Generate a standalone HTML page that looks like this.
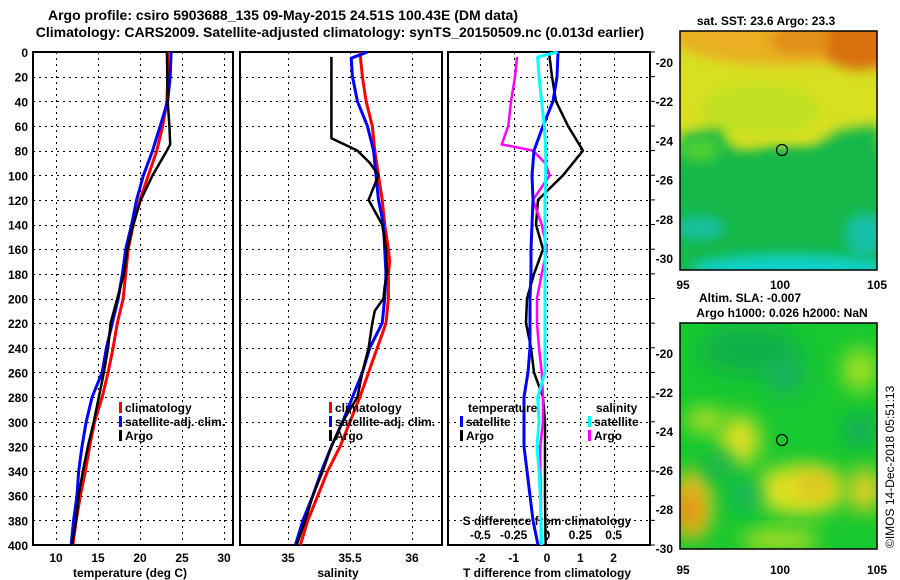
<!DOCTYPE html>
<html><head><meta charset="utf-8"><style>
html,body{margin:0;padding:0;background:#fff;}
svg{display:block;font-family:"Liberation Sans",Arial,sans-serif;font-weight:bold;}
</style></head><body>
<svg id="chart" width="900" height="580" viewBox="0 0 900 580" xmlns="http://www.w3.org/2000/svg">
<defs>
<filter id="b6" x="-50%" y="-50%" width="200%" height="200%"><feGaussianBlur stdDeviation="6"/></filter>
<filter id="b10" x="-50%" y="-50%" width="200%" height="200%"><feGaussianBlur stdDeviation="10"/></filter>
<clipPath id="m1c"><rect x="680" y="31" width="197" height="239"/></clipPath>
<clipPath id="m2c"><rect x="680" y="323" width="197" height="226"/></clipPath>
</defs>
<text x="283" y="20" font-size="14" text-anchor="middle">Argo profile: csiro 5903688_135 09-May-2015 24.51S 100.43E (DM data)</text>
<text x="340" y="37" font-size="14" text-anchor="middle">Climatology: CARS2009. Satellite-adjusted climatology: synTS_20150509.nc (0.013d earlier)</text>

<g clip-path="url(#m1c)">
<rect x="680" y="31" width="197" height="239" fill="#18b848"/>
<rect x="670" y="20" width="220" height="130" fill="#d8e020" filter="url(#b6)"/>
<ellipse cx="780" cy="35" rx="110" ry="30" fill="#e8b020" filter="url(#b6)"/>
<ellipse cx="860" cy="40" rx="40" ry="30" fill="#d87010" filter="url(#b6)"/>
<ellipse cx="800" cy="40" rx="30" ry="15" fill="#e09018" filter="url(#b6)"/>
<ellipse cx="760" cy="110" rx="60" ry="25" fill="#c0e020" filter="url(#b6)"/>
<path d="M680 135 L720 128 L740 170 L770 150 L810 150 L840 130 L880 125 L880 280 L680 280 Z" fill="#18b848" filter="url(#b6)"/>
<ellipse cx="700" cy="150" rx="20" ry="12" fill="#50d030" filter="url(#b6)"/>
<ellipse cx="790" cy="268" rx="100" ry="14" fill="#10d0c8" filter="url(#b6)"/>
<ellipse cx="700" cy="228" rx="25" ry="12" fill="#18c0a0" filter="url(#b6)"/>
<ellipse cx="865" cy="235" rx="20" ry="22" fill="#18c0a8" filter="url(#b6)"/>
<circle cx="782" cy="150" r="5.5" fill="none" stroke="#000" stroke-width="1.2"/>
</g>
<rect x="680" y="31" width="197" height="239" fill="none" stroke="#000" stroke-width="1.5"/>
<text x="766" y="25" font-size="12" text-anchor="middle">sat. SST: 23.6 Argo: 23.3</text>

<g clip-path="url(#m2c)">
<rect x="680" y="323" width="197" height="226" fill="#18c830"/>
<ellipse cx="750" cy="350" rx="50" ry="25" fill="#10b048" filter="url(#b10)"/>
<ellipse cx="785" cy="375" rx="20" ry="20" fill="#18b060" filter="url(#b10)"/>
<ellipse cx="740" cy="440" rx="20" ry="25" fill="#e0e020" filter="url(#b10)"/>
<ellipse cx="705" cy="420" rx="20" ry="12" fill="#b8e020" filter="url(#b10)"/>
<ellipse cx="800" cy="490" rx="45" ry="25" fill="#e0e020" filter="url(#b10)"/>
<ellipse cx="815" cy="485" rx="18" ry="14" fill="#e0c020" filter="url(#b10)"/>
<ellipse cx="692" cy="505" rx="20" ry="35" fill="#e8c020" filter="url(#b10)"/>
<ellipse cx="688" cy="510" rx="10" ry="18" fill="#e08010" filter="url(#b10)"/>
<ellipse cx="865" cy="490" rx="18" ry="22" fill="#e0d020" filter="url(#b10)"/>
<ellipse cx="860" cy="370" rx="18" ry="22" fill="#a0e020" filter="url(#b10)"/>
<ellipse cx="860" cy="430" rx="15" ry="15" fill="#10a860" filter="url(#b10)"/>
<ellipse cx="745" cy="495" rx="15" ry="15" fill="#10b060" filter="url(#b10)"/>
<ellipse cx="720" cy="465" rx="12" ry="12" fill="#10a860" filter="url(#b10)"/>
<ellipse cx="780" cy="540" rx="40" ry="10" fill="#c0e020" filter="url(#b10)"/>
<circle cx="782" cy="440" r="5.5" fill="none" stroke="#000" stroke-width="1.2"/>
</g>
<rect x="680" y="323" width="197" height="226" fill="none" stroke="#000" stroke-width="1.5"/>
<text x="750" y="302" font-size="12" text-anchor="middle">Altim. SLA: -0.007</text>
<text x="782" y="317" font-size="12" text-anchor="middle">Argo h1000: 0.026 h2000: NaN</text>
<text transform="translate(894,548) rotate(-90)" font-size="12" font-weight="normal">©IMOS 14-Dec-2018 05:51:13</text>
<g id="dyn"></g>
</svg>
<script>
// ---- data ----
const depths = [0,20,40,60,80,100,120,140,160,180,200,220,240,260,280,300,320,340,360,380,400];
const tempClim = [23.3,23.3,23.2,22.7,22.0,21.0,20.0,19.2,18.6,18.3,18.0,17.3,16.8,16.2,15.5,14.6,14.0,13.5,12.9,12.4,12.0];
const tempSat = [23.7,23.6,23.3,22.4,21.5,20.4,19.6,19.0,18.3,17.9,17.4,16.7,16.0,15.5,14.3,13.6,13.1,12.7,12.5,12.1,11.8];
const argoDepths = [0,40,60,75,80,100,120,140,160,180,200,220,240,260,280,300,320,340,360,380,400];
const tempArgo = [23.2,23.3,23.5,23.6,23.2,21.5,20.1,19.2,18.5,18.1,17.3,16.5,16.2,15.7,15.1,14.5,13.8,13.2,12.7,12.4,11.9];
const salClimDepths = [0,20,40,60,80,100,120,140,160,170,180,200,220,240,260,280,300,320,340,360,380,400];
const salClim = [35.58,35.60,35.63,35.68,35.70,35.73,35.76,35.78,35.81,35.82,35.81,35.81,35.79,35.72,35.65,35.58,35.50,35.42,35.32,35.24,35.16,35.10];
const salSatDepths = [0,5,20,40,60,80,100,120,140,160,180,200,220,240,260,280,300,320,340,360,380,400];
const salSat = [35.64,35.51,35.52,35.56,35.64,35.69,35.71,35.73,35.77,35.78,35.79,35.78,35.76,35.66,35.60,35.52,35.44,35.35,35.27,35.20,35.12,35.06];
const salArgoDepths = [4,70,80,90,100,105,120,140,160,180,190,200,210,220,240,260,280,300,320,340,360,380,400];
const salArgo = [35.35,35.35,35.56,35.66,35.73,35.71,35.65,35.76,35.79,35.80,35.78,35.77,35.70,35.68,35.65,35.60,35.56,35.44,35.35,35.28,35.20,35.14,35.07];
const tDiffSat = [0.33,0.30,0.18,-0.12,-0.39,-0.45,-0.42,-0.45,-0.48,-0.48,-0.51,-0.51,-0.51,-0.57,-0.69,-0.69,-0.69,-0.60,-0.51,-0.42,-0.27];
const tDiffArgo = [0.06,0.15,0.27,0.63,1.08,0.48,-0.27,-0.33,-0.12,-0.39,-0.60,-0.63,-0.48,-0.39,-0.12,-0.06,-0.06,-0.06,-0.06,-0.05,-0.04];
const sDiffArgoDepths = [4,20,40,60,75,80,90,100,120,140,160,180,200,220,240,260,280,300,320,340,360,380,400];
const sDiffArgo = [-0.225,-0.24,-0.27,-0.29,-0.34,-0.105,-0.015,0.02,-0.105,-0.04,0,-0.04,-0.075,-0.075,-0.06,-0.04,-0.03,-0.03,-0.05,-0.05,-0.045,-0.045,-0.045];
const sDiffSatDepths = [0,4,20,40,60,80,100,120,140,160,180,200,220,240,260,280,300,320,340,360,380,400];
const sDiffSat = [0.08,-0.07,-0.06,-0.04,-0.02,-0.01,-0.01,-0.015,-0.015,-0.015,-0.015,-0.015,-0.015,-0.015,-0.015,-0.07,-0.06,-0.075,-0.06,-0.05,-0.045,-0.04];
const depthTicks = [0,20,40,60,80,100,120,140,160,180,200,220,240,260,280,300,320,340,360,380,400];
const tempTicks = [10,15,20,25,30];
const salTicks = [35,35.5,36];
const salTickLabels = ["35","35.5","36"];
const tDiffTicks = [-2,-1,0,1,2];
const sDiffTicks = [-0.5,-0.25,0,0.25,0.5];
const sDiffTickLabels = ["-0.5","-0.25","0","0.25","0.5"];
const mapLonTicks = [95,100,105];
const mapLatTicks = [-20,-22,-24,-26,-28,-30];

// ---- axes ----
const Y0=52, Y1=545;
const yD = d => Y0 + d*(Y1-Y0)/400;
const P1={x0:33,x1:233}, P2={x0:240,x1:442}, P3={x0:448,x1:650};
const xT = v => 56 + (v-10)*8.4;
const xS = v => 288 + (v-35)*124;
const xD = v => 547 + v*33.3;
const xDS = v => 547 + v*133.3;
const m1Lon = v => 683 + (v-95)*19.4, m1Lat = v => 62 + (-20 - v)*19.6;
const m2Lat = v => 353 + (-20 - v)*19.5;

const NS='http://www.w3.org/2000/svg';
const g=document.getElementById('dyn');
function mk(tag,attrs,parent){const e=document.createElementNS(NS,tag);for(const k in attrs)e.setAttribute(k,attrs[k]);(parent||g).appendChild(e);return e;}
function txt(x,y,s,size,anchor,fill){const t=mk('text',{x:x,y:y,'font-size':size,'text-anchor':anchor||'middle',fill:fill||'#000'});t.textContent=s;return t;}
const px = v => Math.round(v)+0.5;

function panel(P,xs,xf,name){
  const grp=mk('g',{'shape-rendering':'crispEdges'});
  
  
  depthTicks.forEach(d=>{ if(d>0&&d<400){ const l=mk('line',{x1:P.x0,x2:P.x1,y1:px(yD(d)),y2:px(yD(d)),stroke:'#000','stroke-width':1,'stroke-dasharray':'2 4'},grp);
    
     }});
  xs.forEach(v=>{ const l=mk('line',{x1:px(xf(v)),x2:px(xf(v)),y1:Y0,y2:Y1,stroke:'#000','stroke-width':1,'stroke-dasharray':'2 4'},grp);
    
     });
  const r=mk('rect',{x:P.x0,y:Y0,width:P.x1-P.x0,height:Y1-Y0,fill:'none',stroke:'#000','stroke-width':2},grp);
  
  
  return grp;
}
function series(xsv,ds,xf,color,w,name){
  const pts=xsv.map((v,i)=>xf(v).toFixed(1)+','+yD(ds[i]).toFixed(1)).join(' ');
  const p=mk('polyline',{points:pts,fill:'none',stroke:color,'stroke-width':w,'stroke-linejoin':'round'});
  
  
}
function legendEntry(x,y,color,label){
  const r=mk('rect',{x:x,y:y-10,width:3,height:11,fill:color});
  
  
  const t=txt(x+6,y,label,12,'start');
  
  
}

panel(P1,tempTicks,xT,'temperature-panel');
panel(P2,salTicks,xS,'salinity-panel');
panel(P3,tDiffTicks,xD,'difference-panel');

depthTicks.forEach(d=>{const t=txt(28,yD(d)+5,String(d),12,'end');
  
  
  const k=mk('line',{x1:650,x2:655,y1:yD(d),y2:yD(d),stroke:'#000','stroke-width':1});
  
  });
tempTicks.forEach(v=>{const t=txt(xT(v),562,String(v),12);
  
  });
salTicks.forEach((v,i)=>{const t=txt(xS(v),562,salTickLabels[i],12);
  
  });
tDiffTicks.forEach(v=>{const t=txt(xD(v),562,String(v),12);
  
  });
sDiffTicks.forEach((v,i)=>{const t=txt(xDS(v),539,sDiffTickLabels[i],12);
  
  });
let a=txt(130,577,'temperature (deg C)',12);  
a=txt(338,577,'salinity',12);  
a=txt(547,577,'T difference from climatology',12);  
a=txt(547,525,'S difference from climatology',12);  

series(tempClim,depths,xT,'#ff0000',3,'temperature-climatology-line');
series(tempSat,depths,xT,'#0000ff',3,'temperature-satellite-line');
series(tempArgo,argoDepths,xT,'#000000',2.5,'temperature-argo-line');
series(salClim,salClimDepths,xS,'#ff0000',3,'salinity-climatology-line');
series(salSat,salSatDepths,xS,'#0000ff',3,'salinity-satellite-line');
series(salArgo,salArgoDepths,xS,'#000000',2.5,'salinity-argo-line');
series(tDiffArgo,depths,xD,'#000000',2.5,'t-diff-argo-line');
series(sDiffArgo,sDiffArgoDepths,xDS,'#ff00ff',2.5,'s-diff-argo-line');
series(tDiffSat,depths,xD,'#0000ff',3,'t-diff-satellite-line');
series(sDiffSat,sDiffSatDepths,xDS,'#00ffff',3,'s-diff-satellite-line');

legendEntry(119,412,'#ff0000','climatology');
legendEntry(119,426,'#0000ff','satellite-adj. clim.');
legendEntry(119,440,'#000000','Argo');
legendEntry(329,412,'#ff0000','climatology');
legendEntry(329,426,'#0000ff','satellite-adj. clim.');
legendEntry(329,440,'#000000','Argo');
a=txt(468,412,'temperature',12,'start');  
a=txt(596,412,'salinity',12,'start');  
legendEntry(460,426,'#0000ff','satellite');
legendEntry(460,440,'#000000','Argo');
legendEntry(588,426,'#00ffff','satellite');
legendEntry(588,440,'#ff00ff','Argo');

// map ticks
mapLatTicks.forEach(v=>{
  let t=txt(673,m1Lat(v)+5,String(v),12,'end');  
  t=txt(673,m2Lat(v)+5,String(v),12,'end');  
});
mapLonTicks.forEach(v=>{
  let t=txt(m1Lon(v),289,String(v),12);  
  t=txt(m1Lon(v),574,String(v),12);  
});
</script>
</body></html>
